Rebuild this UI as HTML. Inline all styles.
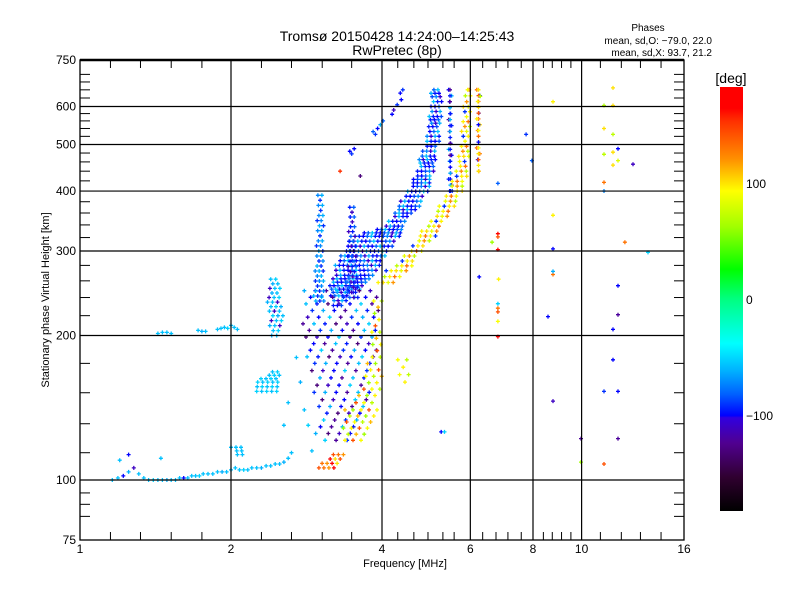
<!DOCTYPE html>
<html><head><meta charset="utf-8">
<style>
body{margin:0;background:#fff;}
svg{display:block;font-family:"Liberation Sans",sans-serif;}
</style></head>
<body>
<svg id="chart" width="800" height="600" viewBox="0 0 800 600">
<defs>
<linearGradient id="cbar" x1="0" y1="1" x2="0" y2="0">
<stop offset="0" stop-color="#000000"/>
<stop offset="0.08" stop-color="#300030"/>
<stop offset="0.16" stop-color="#500090"/>
<stop offset="0.22" stop-color="#3000e0"/>
<stop offset="0.225" stop-color="#0000ff"/>
<stop offset="0.275" stop-color="#0060ff"/>
<stop offset="0.33" stop-color="#00b0ff"/>
<stop offset="0.395" stop-color="#00ffff"/>
<stop offset="0.5" stop-color="#00ff80"/>
<stop offset="0.57" stop-color="#00ff00"/>
<stop offset="0.67" stop-color="#a0ff00"/>
<stop offset="0.755" stop-color="#ffff00"/>
<stop offset="0.83" stop-color="#ff9000"/>
<stop offset="0.92" stop-color="#ff3000"/>
<stop offset="0.95" stop-color="#ff0000"/>
<stop offset="1" stop-color="#ff0000"/>
</linearGradient>
</defs>
<text x="397" y="41" font-size="14" text-anchor="middle">Tromsø 20150428 14:24:00–14:25:43</text>
<text x="397" y="55" font-size="14" text-anchor="middle">RwPretec (8p)</text>
<text x="648" y="31" font-size="10" text-anchor="middle">Phases</text>
<text x="712" y="44" font-size="10" text-anchor="end">mean, sd,O: −79.0, 22.0</text>
<text x="712" y="56" font-size="10" text-anchor="end">mean, sd,X:  93.7, 21.2</text>
<text x="405" y="567" font-size="11" text-anchor="middle">Frequency [MHz]</text>
<text transform="translate(49,300) rotate(-90)" font-size="11" text-anchor="middle">Stationary phase Virtual Height [km]</text>
<rect x="720" y="87" width="23" height="424" fill="url(#cbar)"/>
<text x="731" y="83" font-size="14" text-anchor="middle">[deg]</text>
<g id="cbticks" font-size="12"></g>
<g id="marks"></g>
<g id="grid"></g>
<g id="axes" font-size="12"></g>
</svg>
<script>
// ---- data ----
const xMajor = [1, 2, 4, 6, 8, 10, 16];
const xMajorLabels = ["1", "2", "4", "6", "8", "10", "16"];
const xMinor = [1.15, 1.32, 1.52, 1.75, 2.30, 2.64, 3.04, 3.48, 4.30, 4.63, 4.94, 5.29, 5.57, 6.35, 6.75, 7.13, 7.58, 8.39, 8.74, 9.12, 9.52, 10.9, 12.0, 13.1, 14.4];
const yMajor = [75, 100, 200, 300, 400, 500, 600, 750];
const yMajorLabels = ["75", "100", "200", "300", "400", "500", "600", "750"];
const yMinor = [84, 89, 94, 114, 131, 152, 175, 220, 240, 260, 280, 320, 340, 360, 380, 420, 440, 460, 480, 520, 540, 560, 580, 625, 650, 675, 700];
const cbTicks = [100, 0, -100];
const cbTickLabels = ["100", "0", "−100"];

const eTraceF = [1.16,1.19,1.22,1.25,1.28,1.31,1.34,1.37,1.40,1.43,1.46,1.49,1.52,1.55,1.58,1.61,1.64,1.67,1.70,1.73,1.76,1.80,1.84,1.88,1.92,1.96,2.00,2.04,2.08,2.12,2.16,2.20,2.25,2.30,2.35,2.40,2.45,2.50,2.55,2.60,2.64];
const eTraceH = [100,101,102,104,106,103,101,100,100,100,100,100,100,100,101,101,101,102,102,102,103,103,103,104,104,104,105,106,105,105,105,106,106,106,107,107,108,108,109,111,114];
const eTraceP = [-55,-55,-100,-60,-110,-55,-55,-55,-50,-55,-55,-60,-55,-55,-55,-100,-55,-55,-55,-50,-55,-55,-55,-55,-60,-55,-55,-55,-55,-50,-55,-55,-55,-60,-55,-55,-55,-55,-60,-55,-55];
const esF = [1.43,1.46,1.49,1.52,1.72,1.75,1.78,1.88,1.91,1.94,1.97,2.00,2.03,2.06];
const esH = [202,203,203,202,205,204,204,206,207,208,207,210,208,206];
const esP = [-55,-55,-55,-55,-55,-60,-55,-55,-55,-55,-50,-55,-55,-55];
const sparse = [
 [6.28,630,70],[8.77,614,95],[11.55,656,100],[11.08,603,65],[11.55,603,100],[7.75,525,-90],[11.08,540,100],
 [11.55,525,70],[7.96,463,-80],[11.82,490,-100],[11.08,477,70],[11.55,482,100],[11.82,463,80],[12.66,455,-110],
 [11.55,453,100],[6.81,415,-80],[11.08,417,130],[11.08,400,-70],[8.77,356,95],[6.81,326,170],[6.81,321,140],
 [6.63,313,60],[6.81,302,170],[8.77,303,-100],[12.2,313,130],[13.56,298,-50],[8.77,272,-60],[8.77,268,130],
 [6.83,262,95],[11.82,254,-100],[6.81,233,-50],[6.81,228,130],[6.81,224,140],[6.81,214,90],[8.57,219,-100],
 [11.82,221,-120],[11.55,206,-100],[6.81,199,170],[11.55,178,-100],[8.77,146,-110],[11.08,153,-90],
 [11.82,153,-100],[9.97,122,-120],[11.82,122,-120],[9.97,109,60],[11.08,108,140],[5.25,126,-100],[5.33,126,-50],
 [6.25,265,-100],[3.45,484,-100],[3.48,478,-90],[3.52,490,-100],[3.84,532,-80],[3.88,525,-90],[3.92,540,-100],
 [3.97,550,-60],[4.02,560,-80],[4.19,578,-100],[4.22,590,-110],[4.29,605,-90],[4.35,640,-100],[4.40,650,-90],
 [4.37,620,-100],[3.62,430,-130],[3.30,440,150],[1.20,110,-55],[1.25,113,-100],[1.45,111,-55],
 [2.70,180,-55],[2.75,160,-60],[2.80,140,-55],[2.85,130,-50],[2.60,145,-55],[2.55,130,-55],[2.95,125,-60],[2.90,115,-55]
];
const oBandRows = [[231,3.20,3.32],[242,3.15,3.45],[254,3.15,3.70],[267,3.20,3.87],[280,3.23,3.97],[293,3.30,4.06],[307,3.40,4.19],[322,3.50,4.35],[338,4.05,4.44],[354,4.20,4.55],[372,4.30,4.76],[390,4.42,4.87],[409,4.55,4.99],[430,4.66,5.03],[450,4.72,5.11],[473,4.76,5.13],[496,4.85,5.17],[520,4.92,5.22],[545,4.94,5.22],[572,4.97,5.25],[600,4.99,5.25],[629,5.00,5.25],[650,5.02,5.22]];
const oBandP = [-95,-100,-85,-70,-105,-60,-95,-100,-80,-55];
const oColRows = [[650,5.43,5.50],[400,5.43,5.52]];
const oColP = [-100,-120,-60,-95];
const xBandRows = [[258,3.93,4.25],[273,4.06,4.50],[286,4.35,4.66],[300,4.52,4.80],[315,4.66,5.03],[330,4.80,5.22],[346,4.99,5.34],[363,5.13,5.52],[381,5.28,5.67],[400,5.42,5.79],[419,5.52,5.89],[440,5.60,5.93],[461,5.66,5.95],[484,5.72,5.96],[508,5.75,5.97],[558,5.78,5.98],[614,5.82,5.99],[650,5.86,5.99]];
const xBandP = [95,100,85,120,70,95,130,90,-90];
const xColRows = [[650,6.18,6.28],[440,6.18,6.28]];
const xColP = [130,100,-100,140,95];
const lowMixRows = [[248,2.80,3.95],[205,2.78,3.95],[175,2.85,3.85],[147,2.95,3.75],[121,3.05,3.55]];
const lowMixP = [-60,-100,-120,-55,-95,-130,-110,-100,-50,-120,-90];
const yellowLowRows = [[236,3.85,4.00],[186,3.80,4.00],[150,3.60,3.98],[140,3.35,3.90],[121,3.35,3.70]];
const yellowLowP = [90,70,110,60,95,140];
const yellowMidRows = [[178,4.30,4.55],[160,4.30,4.50]];
const yellowMidP = [90,70,95];
const orangeLowRows = [[113,3.20,3.40],[106,2.94,3.25]];
const orangeLowP = [140,130,120,160,100];
const spike1Rows = [[392,2.98,3.04],[300,2.96,3.06],[236,2.92,3.08]];
const spike1P = [-70,-60,-90];
const spike2Rows = [[370,3.45,3.52],[300,3.42,3.55],[240,3.40,3.58]];
const spike2P = [-95,-80,-110];
const cyanARows = [[262,2.40,2.48],[240,2.36,2.52],[220,2.38,2.55],[200,2.40,2.50]];
const cyanAP = [-55,-50,-60,-55,-110];
const cyanBRows = [[168,2.42,2.50],[160,2.22,2.50],[153,2.25,2.48]];
const cyanBP = [-55,-50];
const cyanCRows = [[117,2.00,2.12],[113,2.05,2.15]];
const cyanCP = [-55];

// ---- scales ----
const X0 = 80, X1 = 684, Y0 = 60, Y1 = 540;
const fx = f => X0 + (X1 - X0) * Math.log2(f) / 4;
const fy = h => Y1 - (Y1 - Y0) * Math.log10(h / 75);
const cbY = p => 300 - p * 1.16;
const NS = "http://www.w3.org/2000/svg";
const stops = [[-182,[0,0,0]],[-152,[48,0,48]],[-123,[80,0,144]],[-102,[48,0,224]],[-100,[0,0,255]],[-80,[0,96,255]],[-60,[0,176,255]],[-37,[0,255,255]],[0,[0,255,128]],[26,[0,255,0]],[60,[160,255,0]],[92,[255,255,0]],[121,[255,144,0]],[150,[255,48,0]],[160,[255,0,0]],[190,[255,0,0]]];
function color(p){
  for(let i=0;i<stops.length-1;i++){
    const a=stops[i],b=stops[i+1];
    if(p<=b[0]){const t=Math.max(0,(p-a[0])/(b[0]-a[0]));
      return "rgb("+a[1].map((v,k)=>Math.round(v+(b[1][k]-v)*t)).join(",")+")";}
  }
  return "rgb(255,0,0)";
}
function mk(tag, attrs, parent){const e=document.createElementNS(NS,tag);for(const k in attrs)e.setAttribute(k,attrs[k]);parent.appendChild(e);return e;}
const marks = document.getElementById("marks");
function plusD(x,y){return "M"+(x-2).toFixed(1)+" "+y.toFixed(1)+"h4M"+x.toFixed(1)+" "+(y-2).toFixed(1)+"v4";}
function drawSeries(name, pts){
  const groups = {};
  pts.forEach(p=>{const c=color(p[2]);(groups[c]=groups[c]||[]).push(plusD(p[0],p[1]));});
  for(const c in groups){
    const el = mk("path",{d:groups[c].join(""),stroke:c,"stroke-width":"1.3",fill:"none"},marks);
    
    
  }
}
function cloud(name, rows, phases, step, vstep){
  vstep = vstep || 4;
  const pts=[];let k=0,r=0;
  for(let i=0;i<rows.length;i++){
    const a=rows[i], b=rows[i+1]||null;
    const ya=fy(a[0]);
    const yb=b?fy(b[0]):ya;
    const n=b?Math.max(1,Math.round(Math.abs(ya-yb)/vstep)):1;
    for(let s=0;s<n;s++){
      const t=s/n;
      const y=ya+(yb-ya)*t;
      const xl=fx(a[1])+((b?fx(b[1]):fx(a[1]))-fx(a[1]))*t;
      const xh=fx(a[2])+((b?fx(b[2]):fx(a[2]))-fx(a[2]))*t;
      const off=((r*3)%5)*step/5; r++;
      for(let x=xl+off;x<=xh+0.5;x+=step){pts.push([x,y,phases[k%phases.length]]);k++;}
      if(xh-xl<step){pts.push([(xl+xh)/2,y,phases[k%phases.length]]);k++;}
    }
  }
  drawSeries(name, pts);
}
cloud("o-trace-cloud", oBandRows, oBandP, 4);
cloud("o-trace-column", oColRows, oColP, 5, 6);
cloud("low-mixed-cloud", lowMixRows, lowMixP, 11, 7);
cloud("spike-3mhz", spike1Rows, spike1P, 4, 5);
cloud("spike-3-5mhz", spike2Rows, spike2P, 4, 5);
cloud("x-trace-cloud", xBandRows, xBandP, 5, 5);
cloud("x-trace-column", xColRows, xColP, 5, 6);
cloud("yellow-low-cloud", yellowLowRows, yellowLowP, 8, 6);
cloud("yellow-mid-cloud", yellowMidRows, yellowMidP, 9, 7);
cloud("orange-low-cloud", orangeLowRows, orangeLowP, 5);
cloud("cyan-cluster-a", cyanARows, cyanAP, 5, 5);
cloud("cyan-cluster-b", cyanBRows, cyanBP, 5);
cloud("cyan-cluster-c", cyanCRows, cyanCP, 5);
drawSeries("e-layer-trace", eTraceF.map((f,i)=>[fx(f),fy(eTraceH[i]),eTraceP[i]]));
drawSeries("es-layer-trace", esF.map((f,i)=>[fx(f),fy(esH[i]),esP[i]]));
drawSeries("sparse-echoes", sparse.map(p=>[fx(p[0]),fy(p[1]),p[2]]));

// ---- grid ----
const grid=document.getElementById("grid");
xMajor.slice(1,-1).forEach(f=>{const l=mk("line",{x1:fx(f),x2:fx(f),y1:Y0,y2:Y1,stroke:"#000","stroke-width":"1.2"},grid);
  
  });
yMajor.slice(1,-1).forEach(h=>{const l=mk("line",{x1:X0,x2:X1,y1:fy(h),y2:fy(h),stroke:"#000","stroke-width":"1.2"},grid);
  
  });

// ---- axes ----
const ax=document.getElementById("axes");
const frame=mk("rect",{x:X0,y:Y0,width:X1-X0,height:Y1-Y0,fill:"none",stroke:"#000","stroke-width":"1.3"},ax);


mk("line",{x1:X0,x2:X1,y1:Y0,y2:Y0,stroke:"#000","stroke-width":"2.5"},ax);
xMinor.forEach(f=>{const x=fx(f);
  const t1=mk("line",{x1:x,x2:x,y1:Y1,y2:Y1-8,stroke:"#000"},ax);
  
  
  const t2=mk("line",{x1:x,x2:x,y1:Y0,y2:Y0+8,stroke:"#000"},ax);
  
  });
yMinor.forEach(h=>{const y=fy(h);
  const t1=mk("line",{x1:X0,x2:X0+10,y1:y,y2:y,stroke:"#000"},ax);
  
  
  const t2=mk("line",{x1:X1,x2:X1-10,y1:y,y2:y,stroke:"#000"},ax);
  
  });
xMajor.forEach((f,i)=>{const t=mk("text",{x:fx(f),y:553,"text-anchor":"middle"},ax);t.textContent=xMajorLabels[i];
  
  });
yMajor.forEach((h,i)=>{const t=mk("text",{x:76,y:fy(h)+4,"text-anchor":"end"},ax);t.textContent=yMajorLabels[i];
  
  });
const cb=document.getElementById("cbticks");
cbTicks.forEach((p,i)=>{const t=mk("text",{x:746,y:cbY(p)+4},cb);t.textContent=cbTickLabels[i];
  
  });
</script>
</body></html>
